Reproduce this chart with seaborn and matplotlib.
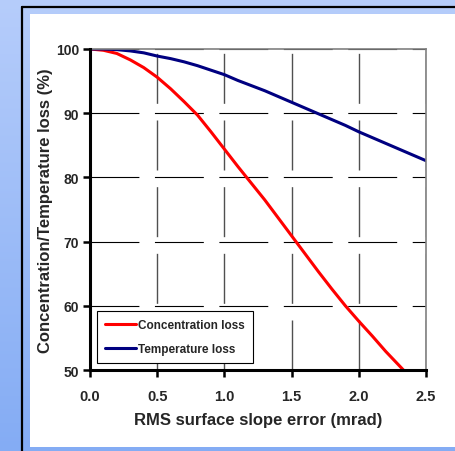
import numpy as np
import pandas as pd
import matplotlib
matplotlib.use("Agg")
import matplotlib.pyplot as plt
from matplotlib.patches import Rectangle
from matplotlib.colors import LinearSegmentedColormap
import seaborn as sns

# data
slope_error = [0.0, 0.1, 0.2, 0.3, 0.4, 0.5, 0.6, 0.7, 0.8, 0.9, 1.0, 1.1, 1.2,
               1.3, 1.4, 1.5, 1.6, 1.7, 1.8, 1.9, 2.0, 2.1, 2.2, 2.3, 2.4, 2.5]
concentration_loss = [100.0, 99.8, 99.3, 98.3, 97.1, 95.6, 93.8, 91.8, 89.7, 87.1,
                      84.4, 81.7, 79.1, 76.5, 73.7, 70.9, 68.1, 65.3, 62.6, 60.0,
                      57.6, 55.3, 52.9, 50.7, 48.5, 46.3]
temperature_loss = [100.0, 100.0, 99.9, 99.7, 99.4, 98.9, 98.5, 98.0, 97.4, 96.7,
                    96.0, 95.1, 94.3, 93.5, 92.6, 91.7, 90.8, 89.9, 89.0, 88.1,
                    87.1, 86.2, 85.3, 84.4, 83.5, 82.6]
series_names = ["Concentration loss", "Temperature loss"]
series_colors = ["#ff0000", "#000080"]
x_ticks = [0.0, 0.5, 1.0, 1.5, 2.0, 2.5]
y_ticks = [50, 60, 70, 80, 90, 100]

df = pd.DataFrame({
    "slope": slope_error * 2,
    "loss": concentration_loss + temperature_loss,
    "series": [series_names[0]] * len(slope_error) + [series_names[1]] * len(slope_error),
})

sns.set_style("white", {"xtick.bottom": True, "ytick.left": True})
plt.rcParams['font.family'] = ['Liberation Sans', 'DejaVu Sans']
plt.rcParams['font.weight'] = 'bold'

fig = plt.figure(figsize=(4.55, 4.52), dpi=100)

# slide-like frame: blue gradient, black border, white panel
bg = fig.add_axes([0, 0, 1, 1])
grad = np.linspace(0, 1, 256).reshape(-1, 1)
cmap = LinearSegmentedColormap.from_list("bg", ["#b6cdfb", "#84acf4"])
bg.imshow(grad, aspect='auto', cmap=cmap, extent=[0, 455, 452, 0])
bg.set_xlim(0, 455)
bg.set_ylim(452, 0)
bg.add_patch(Rectangle((30, 15), 425, 433, facecolor='white', edgecolor='none'))
bg.plot([22, 22], [8, 452], color='black', lw=1.6)
bg.plot([22, 455], [8, 8], color='black', lw=1.6)
bg.axis('off')

ax = fig.add_axes([0.1978, 0.1792, 0.7385, 0.7102])
sns.lineplot(data=df, x='slope', y='loss', hue='series', palette=series_colors,
             lw=2.2, ax=ax)

ax.set_xlim(0, 2.5)
ax.set_ylim(50, 100)
ax.set_xticks(x_ticks)
ax.set_yticks(y_ticks)
ax.set_xticklabels([f"{t:.1f}" for t in x_ticks])
ax.grid(axis='x', color='#505050', lw=1.0, linestyle=(0, (36, 12)))
ax.grid(axis='y', color='black', lw=0.8, linestyle=(0, (44, 14)))

for side in ['left', 'bottom']:
    ax.spines[side].set_color('black')
    ax.spines[side].set_linewidth(2.2)
    ax.spines[side].set_zorder(3)
for side in ['top', 'right']:
    ax.spines[side].set_color('#808080')
    ax.spines[side].set_linewidth(1.2)

ax.tick_params(axis='both', which='major', direction='out', length=5, width=1.8,
               color='black', left=True, bottom=True)
ax.tick_params(axis='x', labelsize=10.5, pad=9)
ax.tick_params(axis='y', labelsize=10, pad=3)

ax.set_xlabel('RMS surface slope error (mrad)', fontsize=12, fontweight='bold', labelpad=6)
ax.set_ylabel('Concentration/Temperature loss (%)', fontsize=12, fontweight='bold', labelpad=2)

sns.move_legend(ax, 'lower left', bbox_to_anchor=(0.021, 0.022), borderaxespad=0,
                title=None, frameon=True, fancybox=False, edgecolor='black',
                framealpha=1, prop={'weight': 'bold', 'size': 8.5},
                handlelength=2.6, handletextpad=0.2, labelspacing=1.0, borderpad=0.7)
leg = ax.get_legend()
leg.get_frame().set_linewidth(0.8)

fig.savefig("out.png", dpi=100)
